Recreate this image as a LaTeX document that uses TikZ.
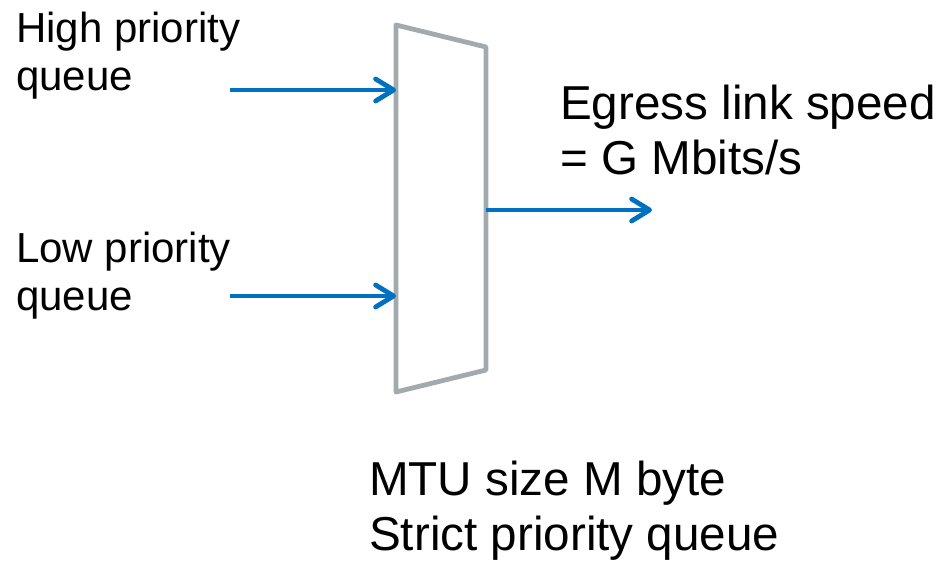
\documentclass[tikz,border=0pt]{standalone}
\usepackage{fontspec}
\setmainfont{Liberation Sans}
\usepackage{xcolor}
\usetikzlibrary{arrows.meta,positioning}

\definecolor{pfeilblau}{HTML}{0070C0}
\definecolor{rahmengrau}{HTML}{A2AAAD}

\tikzset{
	pfeil/.style={pfeilblau, line width=4.8pt, -{Straight Barb[length=18pt, width=22pt, round]}},
	label/.style={inner sep=0pt, anchor=base west, align=left},
	klein/.style={font=\fontsize{42}{48}\selectfont},
	gross/.style={font=\fontsize{47.6}{55}\selectfont}
}

\begin{document}
\begin{tikzpicture}[x=1pt, y=-1pt]
		\useasboundingbox (0,0) rectangle (941,564);

		% Koordinaten
		\coordinate (ol) at (396,25);
		\coordinate (or) at (486,47);
		\coordinate (ur) at (486,370);
		\coordinate (ul) at (396,392);
		\coordinate (hoch_ein) at (396,90);
		\coordinate (tief_ein) at (396,296);
		\coordinate (aus) at (486,210);
		\coordinate (hoch_start) at (230,90);
		\coordinate (tief_start) at (230,296);
		\coordinate (aus_ende) at (652,210);

		% Multiplexer
		\draw[rahmengrau, line width=4.8pt, line join=round] (ol) -- (or) -- (ur) -- (ul) -- cycle;

		% Pfeile
		\draw[pfeil] (hoch_start) -- (hoch_ein);
		\draw[pfeil] (tief_start) -- (tief_ein);
		\draw[pfeil] (aus) -- (aus_ende);

		% Beschriftungen (Anker: Grundlinie der letzten Zeile)
		\node[label, klein] (hoch) at (16,91) {High priority\\queue};
		\node[label, klein] (tief) at (16,310) {Low priority\\queue};
		\node[label, gross] (egress) at (560,175) {Egress link speed\\= G Mbits/s};
		\node[label, gross] (mtu) at (369,550) {MTU size M byte\\Strict priority queue};
	\end{tikzpicture}
\end{document}
